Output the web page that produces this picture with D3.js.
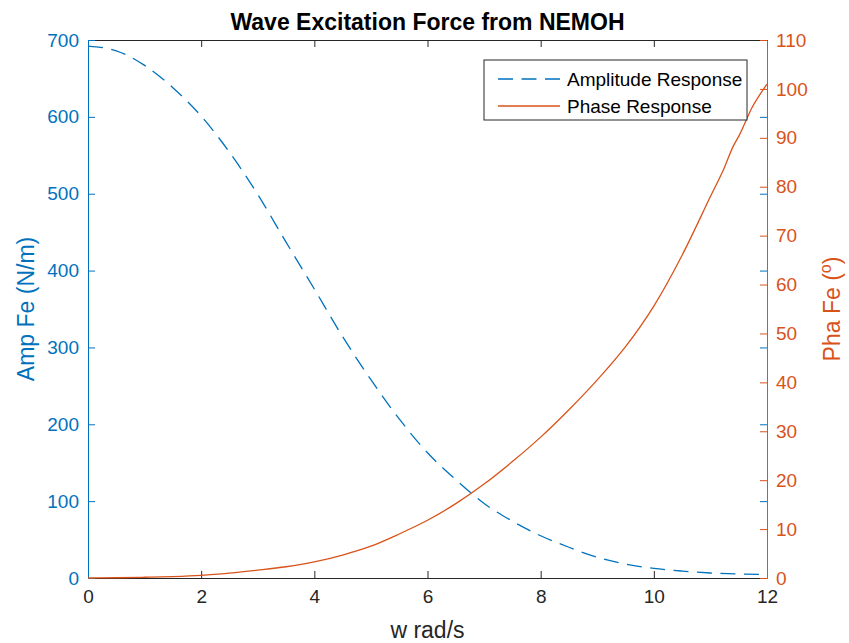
<!DOCTYPE html>
<html>
<head>
<meta charset="utf-8">
<script src="https://cdn.jsdelivr.net/npm/d3@7"></script>
<style>
  body { margin: 0; background: #fff; }
  text { font-family: "Liberation Sans", Arial, sans-serif; }
</style>
</head>
<body>
<div id="graph"></div>
<script>
// frequency samples (rad/s)
var freq = [0, 0.5, 1, 1.5, 2, 2.5, 3, 3.5, 4, 4.5, 5, 5.5, 6, 6.5, 7, 7.5, 8, 8.5, 9, 9.5, 10, 10.5, 11, 11.5, 12];
// amplitude of Fe (N/m)
var amp = [692, 686, 667, 638, 601, 554, 499, 437, 376, 314, 258, 207, 163, 128, 97, 74, 55, 40, 27, 18, 12.5, 9, 6.5, 5.3, 4.5];
// phase samples (deg) - a bit denser at the top end where the curve wiggles
var phaFreq = [0, 0.5, 1, 1.5, 2, 2.5, 3, 3.5, 4, 4.5, 5, 5.5, 6, 6.5, 7, 7.5, 8, 8.5, 9, 9.5, 10, 10.5, 11, 11.25, 11.4, 11.5, 11.75, 11.9, 12];
var pha = [0, 0.05, 0.15, 0.3, 0.55, 1.0, 1.6, 2.3, 3.3, 4.7, 6.5, 9.0, 11.8, 15.2, 19.2, 23.8, 28.8, 34.4, 40.5, 47.3, 55.6, 66, 78, 84, 88.2, 90.3, 96.5, 99.3, 101];

var xTicks = [0, 2, 4, 6, 8, 10, 12];
var ampTicks = [0, 100, 200, 300, 400, 500, 600, 700];
var phaTicks = [0, 10, 20, 30, 40, 50, 60, 70, 80, 90, 100, 110];

var blue = "#0072BD", orange = "#D95319", grey = "#262626";
var W = 849, H = 643;
// plot box (note: "top" is taken by window.top, so prefix everything)
var pLeft = 88, pRight = 767, pTop = 40, pBottom = 578;
var tickLen = 7;

var svg = d3.select("div#graph").append("svg")
	.attr("width", W)
	.attr("height", H);

var x = d3.scaleLinear().domain([0, 12]).range([pLeft, pRight]);
var yA = d3.scaleLinear().domain([0, 700]).range([pBottom, pTop]);
var yP = d3.scaleLinear().domain([0, 110]).range([pBottom, pTop]);

// x axis (bottom) and the mirrored one on top
var xb = svg.append("g")
	.attr("transform", "translate(0," + pBottom + ")")
	.call(d3.axisBottom(x).tickValues(xTicks).tickSizeInner(-tickLen).tickSizeOuter(0).tickPadding(12));
var xt = svg.append("g")
	.attr("transform", "translate(0," + pTop + ")")
	.call(d3.axisTop(x).tickValues(xTicks).tickSizeInner(-tickLen).tickSizeOuter(0).tickFormat(""));
[xb, xt].forEach(function(g) {
	g.select(".domain").attr("stroke", grey);
	g.selectAll(".tick line").attr("stroke", grey);
	g.selectAll("text").attr("fill", grey).style("font-size", "19px");
});

// left axis (amplitude) + its ticks repeated on the right side
var ya = svg.append("g")
	.attr("transform", "translate(" + pLeft + ",0)")
	.call(d3.axisLeft(yA).tickValues(ampTicks).tickSizeInner(-tickLen).tickSizeOuter(0).tickPadding(9));
var yaR = svg.append("g")
	.attr("transform", "translate(" + pRight + ",0)")
	.call(d3.axisRight(yA).tickValues(ampTicks).tickSizeInner(-tickLen).tickSizeOuter(0).tickFormat(""));
yaR.select(".domain").remove();
[ya, yaR].forEach(function(g) {
	g.select(".domain").attr("stroke", blue);
	g.selectAll(".tick line").attr("stroke", blue);
	g.selectAll("text").attr("fill", blue).style("font-size", "19px");
});

// right axis (phase)
var yp = svg.append("g")
	.attr("transform", "translate(" + pRight + ",0)")
	.call(d3.axisRight(yP).tickValues(phaTicks).tickSizeInner(-tickLen).tickSizeOuter(0).tickPadding(9));
yp.select(".domain").attr("stroke", orange);
yp.selectAll(".tick line").attr("stroke", orange);
yp.selectAll("text").attr("fill", orange).style("font-size", "19px");

// curves
var ampData = freq.map(function(f, i) { return {w: f, v: amp[i]}; });
var phaData = phaFreq.map(function(f, i) { return {w: f, v: pha[i]}; });

svg.append("path")
	.datum(ampData)
	.attr("fill", "none")
	.attr("stroke", blue)
	.attr("stroke-width", 1.3)
	.attr("stroke-dasharray", "15,8.5")
	.attr("d", d3.line().x(function(d) { return x(d.w); }).y(function(d) { return yA(d.v); }).curve(d3.curveMonotoneX));

svg.append("path")
	.datum(phaData)
	.attr("fill", "none")
	.attr("stroke", orange)
	.attr("stroke-width", 1.3)
	.attr("d", d3.line().x(function(d) { return x(d.w); }).y(function(d) { return yP(d.v); }).curve(d3.curveMonotoneX));

// title and axis labels
svg.append("text")
	.attr("x", (pLeft + pRight) / 2)
	.attr("y", 30)
	.attr("text-anchor", "middle")
	.attr("fill", "#000")
	.style("font-size", "23px")
	.style("font-weight", "bold")
	.text("Wave Excitation Force from NEMOH");

svg.append("text")
	.attr("x", (pLeft + pRight) / 2)
	.attr("y", 638)
	.attr("text-anchor", "middle")
	.attr("fill", grey)
	.style("font-size", "23px")
	.text("w rad/s");

svg.append("text")
	.attr("transform", "translate(34," + (pTop + pBottom) / 2 + ") rotate(-90)")
	.attr("text-anchor", "middle")
	.attr("fill", blue)
	.style("font-size", "23px")
	.text("Amp Fe (N/m)");

var rl = svg.append("text")
	.attr("transform", "translate(840," + (pTop + pBottom) / 2 + ") rotate(-90)")
	.attr("text-anchor", "middle")
	.attr("fill", orange)
	.style("font-size", "23px");
rl.append("tspan").text("Pha Fe (");
rl.append("tspan").attr("dy", -9).style("font-size", "16px").text("o");
rl.append("tspan").attr("dy", 9).text(")");

// legend
var lg = svg.append("g").attr("transform", "translate(484,60)");
lg.append("rect")
	.attr("width", 263).attr("height", 60)
	.attr("fill", "#fff")
	.attr("stroke", grey)
	.attr("stroke-width", 1);
var legendItems = [
	{name: "Amplitude Response", color: blue, dash: "15,8.5"},
	{name: "Phase Response", color: orange, dash: null}
];
legendItems.forEach(function(d, i) {
	var yy = 19 + i * 27;
	lg.append("line")
		.attr("x1", 14).attr("x2", 76)
		.attr("y1", yy).attr("y2", yy)
		.attr("stroke", d.color)
		.attr("stroke-width", 1.3)
		.attr("stroke-dasharray", d.dash);
	lg.append("text")
		.attr("x", 83).attr("y", yy + 7)
		.attr("fill", "#000")
		.style("font-size", "19px")
		.text(d.name);
});
</script>
</body>
</html>
